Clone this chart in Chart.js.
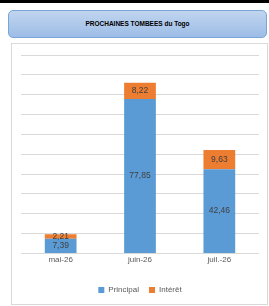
<!DOCTYPE html>
<html>
<head>
<meta charset="utf-8">
<script src="https://cdn.jsdelivr.net/npm/chart.js@4"></script>
<style>
  body { margin: 0; background: #fff; width: 269px; height: 306px; position: relative; overflow: hidden; font-family: "Liberation Sans", Arial, sans-serif; }
  #topbar { position: absolute; left: 0; top: 0; width: 269px; height: 3px; background: #000; }
  #titre { position: absolute; left: 8px; top: 10px; width: 257px; height: 26px; border: 1px solid #7aa5d8; border-radius: 5px;
    background: linear-gradient(#c0d5ef, #9dbde6); text-align: center; line-height: 26px; font-size: 6.5px; font-weight: bold; color: #000; }
  #cadre { position: absolute; left: 11px; top: 43px; width: 255px; height: 260px; border: 1px solid #d9d9d9; }
  #graph { position: absolute; left: 11px; top: 43px; }
</style>
</head>
<body>
<div id="topbar"></div>
<div id="titre">PROCHAINES TOMBEES du Togo</div>
<div id="cadre"></div>
<canvas id="graph" width="257" height="262"></canvas>
<script>
var mois = ['mai-26', 'juin-26', 'juil.-26'];
var principal = [7.39, 77.85, 42.46];
var interet = [2.21, 8.22, 9.63];

function virgule(v) {
    return v.toFixed(2).replace('.', ',');
}

// etiquettes au milieu de chaque segment
var etiquettes = {
    id: 'etiquettes',
    afterDatasetsDraw: function(chart) {
        var ctx = chart.ctx;
        ctx.save();
        ctx.font = '8.5px "Liberation Sans", Arial, sans-serif';
        ctx.fillStyle = '#404040';
        ctx.textAlign = 'center';
        ctx.textBaseline = 'middle';
        chart.data.datasets.forEach(function(ds, i) {
            var meta = chart.getDatasetMeta(i);
            meta.data.forEach(function(bar, j) {
                var p = bar.getProps(['x', 'y', 'base'], true);
                ctx.fillText(virgule(ds.data[j]), p.x, (p.y + p.base) / 2);
            });
        });
        ctx.restore();
    }
};

const data = {
    labels: mois,
    datasets: [{
        label: 'Principal',
        backgroundColor: '#5b9bd5',
        data: principal,
        barPercentage: 0.8,
        categoryPercentage: 0.5
    }, {
        label: 'Intérêt',
        backgroundColor: '#ed7d31',
        data: interet,
        barPercentage: 0.8,
        categoryPercentage: 0.5
    }]
};

const config = {
    type: 'bar',
    data: data,
    plugins: [etiquettes],
    options: {
        responsive: false,
        animation: false,
        layout: { padding: { left: 10, right: 9, top: 12, bottom: 1 } },
        scales: {
            x: {
                stacked: true,
                grid: { display: false, drawTicks: false },
                border: { display: false },
                ticks: { color: '#595959', font: { size: 8, family: '"Liberation Sans", Arial, sans-serif' }, padding: 1.5 },
                afterFit: function(s) { s.height += 10; }
            },
            y: {
                stacked: true,
                min: 0,
                max: 100,
                ticks: { display: false, stepSize: 10 },
                border: { display: false },
                grid: { color: '#d9d9d9', drawTicks: false }
            }
        },
        plugins: {
            legend: {
                position: 'bottom',
                labels: { boxWidth: 6, boxHeight: 6, color: '#595959', font: { size: 8, family: '"Liberation Sans", Arial, sans-serif' }, padding: 10 }
            },
            tooltip: { enabled: false }
        }
    }
};

new Chart(document.getElementById('graph'), config);
</script>
</body>
</html>
